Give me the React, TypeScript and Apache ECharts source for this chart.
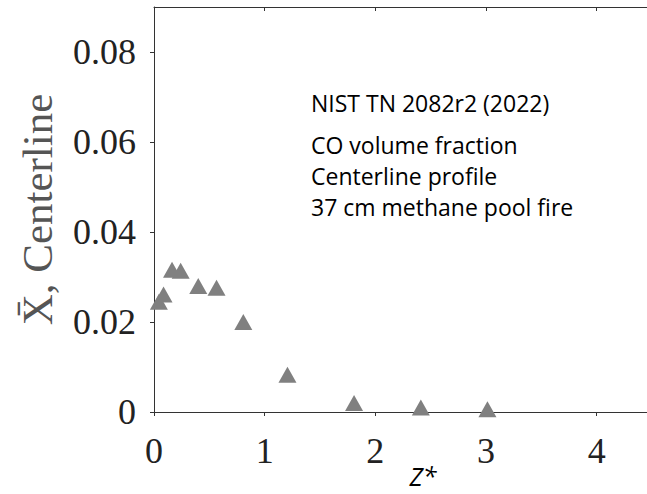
import React, { useEffect, useRef } from "react";
import * as echarts from "echarts";

// Data
const zStar = [0.044, 0.086, 0.163, 0.241, 0.4, 0.565, 0.807, 1.206, 1.808, 2.411, 3.013];
const coFraction = [0.0245, 0.0261, 0.0316, 0.0314, 0.028, 0.0276, 0.02, 0.0083, 0.002, 0.001, 0.0006];

const xTicks = [0, 1, 2, 3, 4];
const yTicks = [0, 0.02, 0.04, 0.06, 0.08];

const annotationLines = [
  "NIST TN 2082r2 (2022)",
  "CO volume fraction",
  "Centerline profile",
  "37 cm methane pool fire",
];
const annotationY = [103, 144.5, 176, 207];

export default function App() {
  const ref = useRef<HTMLDivElement>(null);
  useEffect(() => {
    if (!ref.current) return;
    const chart = echarts.init(ref.current, null, { renderer: "svg" });
    const axisColor = "#333";
    const serif = "'Liberation Serif', 'Times New Roman', serif";
    chart.setOption({
      animation: false,
      backgroundColor: "#fff",
      grid: { left: 154, top: 7, width: 498, height: 405, outerBoundsMode: "none", containLabel: false },
      xAxis: [
        {
          type: "value",
          min: 0,
          max: 4.5,
          position: "bottom",
          axisLine: { show: true, onZero: false, lineStyle: { color: axisColor, width: 1 } },
          axisTick: { show: true, inside: false, length: 4, customValues: xTicks, lineStyle: { color: axisColor } },
          axisLabel: { show: true, customValues: xTicks, margin: 21, fontFamily: serif, fontSize: 36, color: "#222" },
          splitLine: { show: false },
        },
        {
          type: "value",
          min: 0,
          max: 4.5,
          position: "top",
          axisLine: { show: true, onZero: false, lineStyle: { color: axisColor, width: 1 } },
          axisTick: { show: true, inside: true, length: 4, customValues: xTicks, lineStyle: { color: axisColor } },
          axisLabel: { show: false },
          splitLine: { show: false },
        },
      ],
      yAxis: {
        type: "value",
        min: 0,
        max: 0.09,
        axisLine: { show: true, onZero: false, lineStyle: { color: axisColor, width: 1 } },
        axisTick: { show: true, inside: false, length: 4, customValues: yTicks, lineStyle: { color: axisColor } },
        axisLabel: { show: true, customValues: yTicks, margin: 18, fontFamily: serif, fontSize: 36, color: "#222" },
        splitLine: { show: false },
        name: "X̄, Centerline",
        nameLocation: "middle",
        nameRotate: 90,
        nameGap: 95,
        nameTextStyle: {
          fontFamily: serif,
          fontSize: 43,
          color: "#555",
        },
      },
      series: [
        {
          type: "scatter",
          data: zStar.map((z, i) => [z, coFraction[i]]),
          symbol: "triangle",
          symbolSize: [18, 16],
          itemStyle: { color: "#808080", opacity: 1 },
          clip: false,
        },
      ],
      graphic: [
        ...annotationLines.map((t, i) => ({
          type: "text",
          x: 311,
          y: annotationY[i],
          style: {
            text: t,
            font: "23px 'Open Sans', sans-serif",
            fill: "#000",
            textAlign: "left",
            textVerticalAlign: "middle",
          },
        })),
        {
          type: "text",
          x: 423,
          y: 476,
          style: {
            text: "Z*",
            font: "italic 25px 'Open Sans', sans-serif",
            lineHeight: 25,
            fill: "#000",
            textAlign: "center",
            textVerticalAlign: "middle",
          },
        },
      ],
    });
    return () => chart.dispose();
  }, []);
  return <div ref={ref} style={{ position: "fixed", left: 0, top: 0, width: 647, height: 494 }} />;
}
